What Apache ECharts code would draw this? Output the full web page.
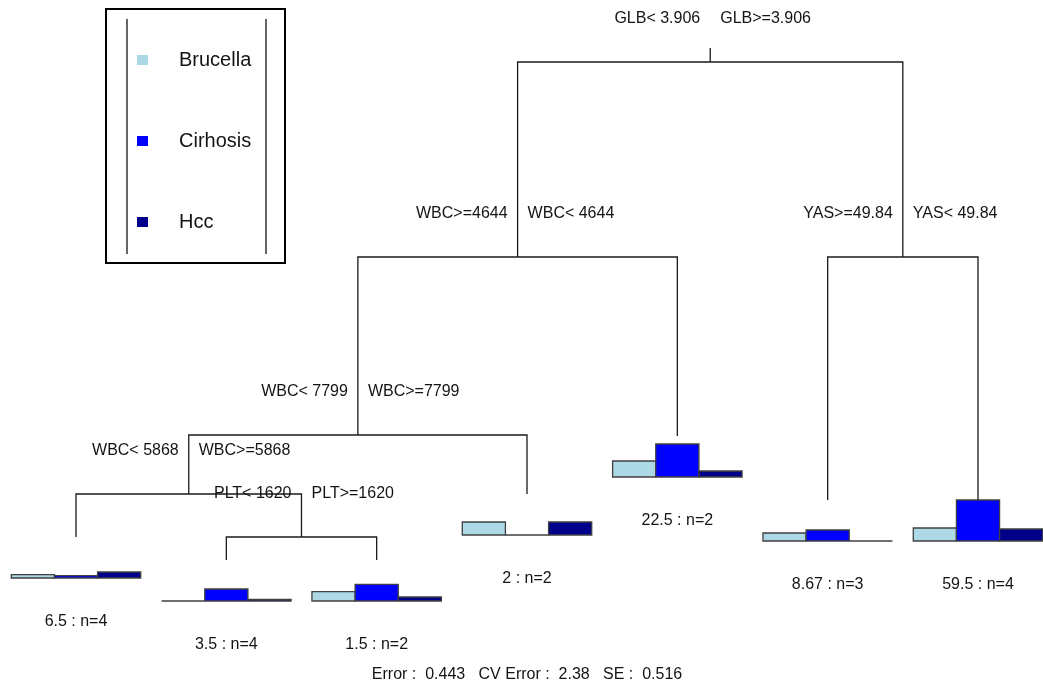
<!DOCTYPE html>
<html>
<head>
<meta charset="utf-8">
<title>Regression tree</title>
<script src="https://cdn.jsdelivr.net/npm/echarts@6/dist/echarts.min.js"></script>
<style>
  html, body { margin: 0; padding: 0; background: #ffffff; }
  #chart { width: 1043px; height: 687px; }
</style>
</head>
<body>
<div id="chart"></div>
<script>
// Multivariate regression tree with per-leaf class means

const classNames = ['Brucella', 'Cirhosis', 'Hcc'];
const classColors = ['#ADD8E6', '#0000FF', '#00008B'];

// Leaves, left to right
const leafLabels = ['6.5 : n=4', '3.5 : n=4', '1.5 : n=2', '2 : n=2', '22.5 : n=2', '8.67 : n=3', '59.5 : n=4'];
const leafHeights = [5, 0.4, 0.4, 13.6, 25.2, 12.4, 12.4];

// Class means at each leaf (same units as node heights)
const brucellaMeans = [0.66, 0, 1.86, 2.6, 3.2, 1.6, 2.6];
const cirhosisMeans = [0.46, 2.4, 3.32, 0, 6.6, 2.2, 8.2];
const hccMeans = [1.2, 0.34, 0.8, 2.6, 1.2, 0, 2.4];

// Split nodes; children are other split ids or leaves ('L' + leaf index)
const splitIds = ['GLB', 'WBC4644', 'YAS', 'WBC7799', 'WBC5868', 'PLT'];
const splitHeights = [100, 61, 61, 25.4, 13.6, 5];
const splitLeftLabels = ['GLB< 3.906', 'WBC>=4644', 'YAS>=49.84', 'WBC< 7799', 'WBC< 5868', 'PLT< 1620'];
const splitRightLabels = ['GLB>=3.906', 'WBC< 4644', 'YAS< 49.84', 'WBC>=7799', 'WBC>=5868', 'PLT>=1620'];
const splitLeftChild = ['WBC4644', 'WBC7799', 'L5', 'WBC5868', 'L0', 'L1'];
const splitRightChild = ['YAS', 'L4', 'L6', 'L3', 'PLT', 'L2'];

const footerText = 'Error :  0.443   CV Error :  2.38   SE :  0.516';

const FONT = '"Liberation Sans", Arial, sans-serif';
const TEXT_COLOR = '#141414';
const LINE_COLOR = '#1a1a1a';
const BAR_BORDER = '#404040';
const BAR_WIDTH = 0.287;     // width of one class bar, in leaf-spacing units
const ROOT_STUB = 2.8;       // short line above the root

// ---- tree layout: leaves at 1..n, splits centred over their children ----
const classMeans = [brucellaMeans, cirhosisMeans, hccMeans];
const barTop = Math.max(...classMeans.flat());

function nodeX(id) {
  if (id[0] === 'L') return Number(id.slice(1)) + 1;
  const i = splitIds.indexOf(id);
  return (nodeX(splitLeftChild[i]) + nodeX(splitRightChild[i])) / 2;
}
function nodeH(id) {
  if (id[0] === 'L') return leafHeights[Number(id.slice(1))];
  return splitHeights[splitIds.indexOf(id)];
}

// Branch segments: [childX, childH, parentX, parentH]
const branchData = [];
splitIds.forEach((id, i) => {
  [splitLeftChild[i], splitRightChild[i]].forEach(ch => {
    branchData.push([nodeX(ch), nodeH(ch), nodeX(id), splitHeights[i]]);
  });
});
const rootX = nodeX(splitIds[0]);
branchData.push([rootX, splitHeights[0], rootX, splitHeights[0] + ROOT_STUB]);

const splitLabelData = splitIds.map((id, i) => [nodeX(id), splitHeights[i], i]);
const leafLabelData = leafLabels.map((t, i) => [i + 1, leafHeights[i] - barTop, i]);

function renderBranch(params, api) {
  const c = api.coord([api.value(0), api.value(1)]);
  const m = api.coord([api.value(0), api.value(3)]);
  const p = api.coord([api.value(2), api.value(3)]);
  return {
    type: 'polyline',
    shape: { points: [c, m, p] },
    style: { stroke: LINE_COLOR, lineWidth: 1.3, fill: null },
    silent: true
  };
}

function renderSplitLabel(params, api) {
  const pt = api.coord([api.value(0), api.value(1)]);
  const i = api.value(2);
  const y = pt[1] - 43;
  const base = { fontSize: 16, fontFamily: FONT, fill: TEXT_COLOR, textVerticalAlign: 'middle' };
  return {
    type: 'group',
    children: [
      { type: 'text', style: Object.assign({ x: pt[0] - 10, y: y, text: splitLeftLabels[i], textAlign: 'right' }, base) },
      { type: 'text', style: Object.assign({ x: pt[0] + 10, y: y, text: splitRightLabels[i], textAlign: 'left' }, base) }
    ],
    silent: true
  };
}

function renderLeafLabel(params, api) {
  const pt = api.coord([api.value(0), api.value(1)]);
  return {
    type: 'text',
    style: {
      x: pt[0], y: pt[1] + 44, text: leafLabels[api.value(2)],
      textAlign: 'center', textVerticalAlign: 'middle',
      fontSize: 16, fontFamily: FONT, fill: TEXT_COLOR
    },
    silent: true
  };
}

function makeBarRenderer(classIndex) {
  return function (params, api) {
    const base = api.coord([api.value(0), api.value(1)]);
    const sz = api.size([BAR_WIDTH, api.value(2)]);
    const w = sz[0], h = sz[1];
    const x0 = base[0] - 1.5 * w + classIndex * w;
    return {
      type: 'rect',
      shape: { x: x0, y: base[1] - h, width: w, height: h },
      style: { fill: api.visual('color'), stroke: BAR_BORDER, lineWidth: 1.3 }
    };
  };
}

const barSeries = classNames.map((name, k) => ({
  name: name,
  type: 'custom',
  clip: false,
  z: 3,
  itemStyle: { color: classColors[k] },
  renderItem: makeBarRenderer(k),
  encode: { x: 0, y: 1 },
  data: classMeans[k].map((v, i) => [i + 1, leafHeights[i] - barTop, v])
}));

const chart = echarts.init(document.getElementById('chart'), null, { renderer: 'canvas' });

chart.setOption({
  animation: false,
  backgroundColor: '#ffffff',
  grid: { left: 76, right: 65, top: 62, bottom: 125 },
  xAxis: { type: 'value', min: 1, max: leafLabels.length, show: false },
  yAxis: { type: 'value', min: 0, max: splitHeights[0], show: false },
  legend: {
    orient: 'vertical',
    left: 132,
    top: 45,
    itemWidth: 11,
    itemHeight: 10,
    itemGap: 61,
    icon: 'rect',
    selectedMode: false,
    data: classNames,
    itemStyle: { borderWidth: 0 },
    textStyle: {
      fontSize: 20, fontFamily: FONT, color: TEXT_COLOR,
      lineHeight: 20, padding: [0, 0, 0, 26]
    }
  },
  graphic: [
    {
      type: 'rect', z: 0,
      shape: { x: 106, y: 9, width: 179, height: 254 },
      style: { fill: null, stroke: '#000000', lineWidth: 2 }
    },
    {
      type: 'line', z: 0,
      shape: { x1: 127, y1: 19, x2: 127, y2: 254 },
      style: { stroke: '#333333', lineWidth: 1.5 }
    },
    {
      type: 'line', z: 0,
      shape: { x1: 266, y1: 19, x2: 266, y2: 254 },
      style: { stroke: '#333333', lineWidth: 1.5 }
    },
    {
      type: 'text', x: 527, y: 675,
      style: {
        text: footerText, textAlign: 'center', textVerticalAlign: 'middle',
        fontSize: 16, fontFamily: FONT, fill: TEXT_COLOR
      }
    }
  ],
  series: [
    {
      type: 'custom', name: 'branches', clip: false, z: 1,
      renderItem: renderBranch,
      encode: { x: [0, 2], y: [1, 3] },
      data: branchData
    },
    {
      type: 'custom', name: 'splits', clip: false, z: 4,
      renderItem: renderSplitLabel,
      encode: { x: 0, y: 1 },
      data: splitLabelData
    },
    {
      type: 'custom', name: 'leaves', clip: false, z: 4,
      renderItem: renderLeafLabel,
      encode: { x: 0, y: 1 },
      data: leafLabelData
    }
  ].concat(barSeries)
});
</script>
</body>
</html>
